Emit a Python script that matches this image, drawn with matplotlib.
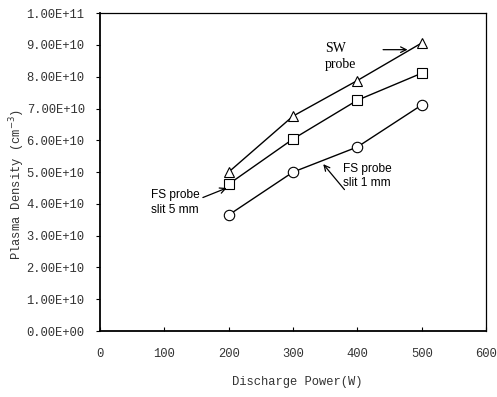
import matplotlib
matplotlib.use("Agg")
import matplotlib.pyplot as plt

# discharge power (W) and plasma density (cm^-3)
power = [200, 300, 400, 500]
sw_probe = [5.0e10, 6.76e10, 7.88e10, 9.06e10]
fs_slit5 = [4.62e10, 6.04e10, 7.26e10, 8.11e10]
fs_slit1 = [3.65e10, 5.0e10, 5.79e10, 7.11e10]

y_ticks = [i * 1e10 for i in range(11)]
y_labels = ["0.00E+00", "1.00E+10", "2.00E+10", "3.00E+10", "4.00E+10", "5.00E+10",
            "6.00E+10", "7.00E+10", "8.00E+10", "9.00E+10", "1.00E+11"]
x_ticks = [0, 100, 200, 300, 400, 500, 600]

mono = ["Liberation Mono", "DejaVu Sans Mono"]

fig = plt.figure(figsize=(4.97, 3.97), dpi=100)
ax = fig.add_axes([0.201, 0.166, 0.777, 0.801])

# the three probe series, open black markers
for vals, mk in [(sw_probe, "^"), (fs_slit5, "s"), (fs_slit1, "o")]:
    ax.plot(power, vals, color="black", linewidth=1.0, marker=mk, markersize=7.5,
            markerfacecolor="white", markeredgecolor="black", markeredgewidth=0.8)

ax.set_xlim(0, 600)
ax.set_ylim(0, 1e11)
ax.set_xticks(x_ticks)
ax.set_xticklabels([str(x) for x in x_ticks], family=mono, fontsize=8.7, color="#333333")
ax.set_yticks(y_ticks)
ax.set_yticklabels(y_labels, family=mono, fontsize=8.7, color="#333333")
ax.tick_params(axis="x", direction="in", length=3, pad=12)
ax.tick_params(axis="y", direction="out", length=3, pad=8)

for side in ["left", "bottom"]:
    ax.spines[side].set_linewidth(1.3)
for side in ["top", "right"]:
    ax.spines[side].set_linewidth(0.9)

ax.set_xlabel("Discharge Power(W)", family=mono, fontsize=8.7, color="#333333", va="center")
ax.xaxis.set_label_coords(0.51, -0.16)
ax.set_ylabel("Plasma Density (cm$^{-3}$)", family=mono, fontsize=8.7, color="#333333", va="center")
ax.yaxis.set_label_coords(-0.215, 0.46)

# annotations with arrows
arrow = dict(arrowstyle="->", color="black", linewidth=0.9, shrinkA=0, shrinkB=0)
ax.text(350, 9.1e10, "SW\nprobe", family="Liberation Serif", fontsize=10, va="top", ha="left",
        linespacing=1.3)
ax.annotate("", xy=(478, 8.85e10), xytext=(440, 8.85e10), arrowprops=arrow)

ax.text(80, 4.47e10, "FS probe\nslit 5 mm", family="Liberation Sans", fontsize=8.6, va="top", ha="left",
        linespacing=1.3)
ax.annotate("", xy=(197, 4.5e10), xytext=(160, 4.2e10), arrowprops=arrow)

ax.text(378, 5.3e10, "FS probe\nslit 1 mm", family="Liberation Sans", fontsize=8.6, va="top", ha="left",
        linespacing=1.3)
ax.annotate("", xy=(347, 5.25e10), xytext=(380, 4.45e10), arrowprops=arrow)

fig.savefig("out.png", dpi=100)
